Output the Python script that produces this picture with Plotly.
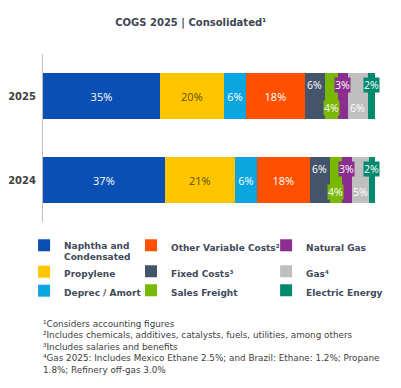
import plotly.graph_objects as go

# ---------------- data ----------------
years = ["2025", "2024"]
components = ["Naphtha and<br>Condensated", "Propylene", "Deprec / Amort",
              "Other Variable Costs²", "Fixed Costs³", "Sales Freight",
              "Natural Gas", "Gas⁴", "Electric Energy"]
share_2025 = [35.2, 19.3, 6.6, 17.8, 6.0, 3.9, 3.0, 6.0, 2.1]
share_2024 = [36.7, 21.1, 6.6, 16.0, 6.0, 3.6, 3.0, 5.1, 1.8]
label_2025 = ["35%", "20%", "6%", "18%", "6%", "4%", "3%", "6%", "2%"]
label_2024 = ["37%", "21%", "6%", "18%", "6%", "4%", "3%", "5%", "2%"]
title_text = "COGS 2025 | Consolidated¹"
footnotes = [
    "¹Considers accounting figures",
    "²Includes chemicals, additives, catalysts, fuels, utilities, among others",
    "³Includes salaries and benefits",
    "⁴Gas 2025: Includes Mexico Ethane 2.5%; and Brazil: Ethane: 1.2%; Propane",
    "1.8%; Refinery off-gas 3.0%",
]

# ---------------- style ----------------
category_order = ["2024", "2025"]
colors = ["#0A50B4", "#FFC600", "#0BA5E0", "#FF5000", "#44546A",
          "#78B800", "#8C2E90", "#BFBFBF", "#00896C"]
inside_text_colors = ["#FFFFFF", "#5E4F00", "#FFFFFF", "#FFFFFF"]
n_inside = 4
# for the small segments: label above (+1) or below (-1) the bar centre
small_pos = {4: 1, 5: -1, 6: 1, 7: -1, 8: 1}
legend_of = ["legend"] * 3 + ["legend2"] * 3 + ["legend3"] * 3
group_of = ["g1", "g1", "g1", "g2a", "g2b", "g2b", "g3a", "g3b", "g3b"]

fig = go.Figure()
for i, name in enumerate(components):
    vals = [share_2025[i], share_2024[i]]
    texts = [label_2025[i], label_2024[i]] if i < n_inside else None
    fig.add_trace(go.Bar(
        orientation="h", y=years, x=vals, name=name,
        marker=dict(color=colors[i], line=dict(width=0)),
        text=texts, textposition="inside" if texts else "none",
        insidetextanchor="middle", textangle=0,
        textfont=dict(family="Open Sans", size=11,
                      color=inside_text_colors[i] if i < n_inside else "#fff"),
        legend=legend_of[i], legendgroup=group_of[i],
        hoverinfo="skip",
    ))

# labels for small segments, positioned from cumulative data
for yr, shares, labels in [("2025", share_2025, label_2025), ("2024", share_2024, label_2024)]:
    cum = 0.0
    yidx = category_order.index(yr)
    for i, v in enumerate(shares):
        if i in small_pos:
            fig.add_annotation(
                x=cum + v / 2, y=yidx, xref="x", yref="y",
                text=labels[i], showarrow=False,
                yshift=11.5 * small_pos[i],
                font=dict(family="Open Sans", size=10.5, color="#FFFFFF"),
                bgcolor=colors[i], borderpad=0,
            )
        cum += v

fig.add_annotation(
    x=-0.006, y=-0.565, xref="paper", yref="paper", xanchor="left", yanchor="top",
    align="left", showarrow=False, text="<br>".join(footnotes),
    font=dict(family="DejaVu Sans", size=8.8, color="#404040"),
)

legend_font = dict(family="DejaVu Sans", size=9, color="#3F4A5A", weight="bold")
common_leg = dict(orientation="v", yanchor="top", xanchor="left", valign="top",
                  font=legend_font, bgcolor="rgba(0,0,0,0)", borderwidth=0,
                  itemclick=False, itemdoubleclick=False)
fig.update_layout(
    width=401, height=388,
    margin=dict(l=43, r=26, t=54, b=166, autoexpand=False),
    paper_bgcolor="white", plot_bgcolor="white",
    barmode="stack", bargap=0.452,
    title=dict(text=title_text, x=0.476, xanchor="center", y=1 - 22 / 388,
               yanchor="middle", xref="container", yref="container",
               font=dict(family="DejaVu Sans", size=10, color="#3D4554", weight="bold")),
    xaxis=dict(range=[0, 100], visible=False, fixedrange=True),
    yaxis=dict(type="category", categoryorder="array", categoryarray=category_order,
               range=[-0.5, 1.5], showline=True, linecolor="#BFBFBF", linewidth=1,
               ticks="", showgrid=False, zeroline=False, ticklabelstandoff=4,
               automargin=False,
               tickfont=dict(family="DejaVu Sans", size=10, color="#404040", weight="bold"),
               fixedrange=True),
    legend=dict(x=-0.057, y=-0.065, traceorder="normal", tracegroupgap=0, **common_leg),
    legend2=dict(x=0.265, y=-0.065, traceorder="grouped", tracegroupgap=7, **common_leg),
    legend3=dict(x=0.672, y=-0.065, traceorder="grouped", tracegroupgap=7, **common_leg),
    showlegend=True,
)

fig.write_html("out.html", config={"displayModeBar": False},
               post_script="document.body.style.margin='0px';")
